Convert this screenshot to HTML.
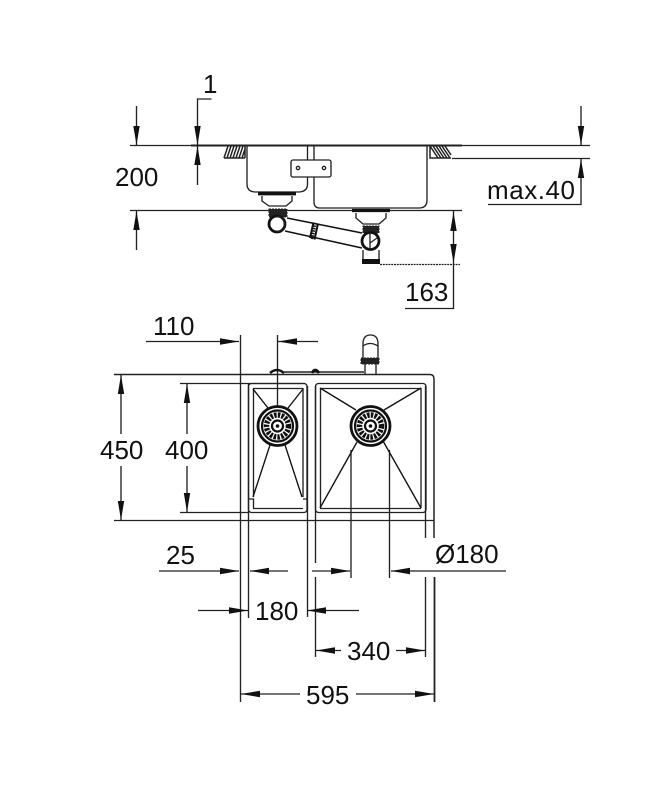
<!DOCTYPE html>
<html><head><meta charset="utf-8"><style>
html,body{margin:0;padding:0;background:#fff;width:668px;height:800px;overflow:hidden}
svg{display:block}
text{font-family:"Liberation Sans",sans-serif;font-size:26px;fill:#111}
</style></head><body>
<svg width="668" height="800" viewBox="0 0 668 800" xmlns="http://www.w3.org/2000/svg">
<defs>
<g id="drain">
<circle r="19.500" fill="#fff" stroke="#111" stroke-width="2.800"/>
<circle r="15.500" fill="none" stroke="#111" stroke-width="2.200"/>
<circle r="11" fill="none" stroke="#111" stroke-width="5.500" stroke-dasharray="2.500 1.200"/>
<circle r="5.500" fill="#fff" stroke="#111" stroke-width="2.200"/>
<circle r="1.800" fill="#111"/>
</g>
</defs>
<g fill="none" stroke="#222" stroke-width="1.350">
<!-- elevation datum lines -->
<path d="M130 145.500H191"/>
<path d="M191 145.500H462" stroke="#222" stroke-width="2"/>
<path d="M462 145.500H590"/>
<path d="M452 158.500H590"/>
<path d="M130 210.500H462"/>
<!-- dims elevation -->
<path d="M136.500 106V145M136.500 211V250"/>
<path d="M211.500 99H197.500V145M197.500 146V185"/>
<path d="M581 106V145M581 159V204.500H488"/>
<path d="M453.500 211V308.500H405"/>
<path d="M380 264.500H460" stroke-dasharray="2 .8"/>
<!-- hatch -->
<g stroke-width="1.500">
<path d="M224 158L228 146M227 158L231 146M230 158L234 146M233 158L237 146M236 158L240 146M239 158L243 146M242 158L245 149M224 158H245M245 146V158"/>
<path d="M430 146V158H451M430 146L438 158M433 146L441 158M436 146L444 158M439 146L447 158M442 146L450 158M445 146L451 155"/>
</g>
<!-- bowls side -->
<path d="M247 146V184Q247 192 256 192H298Q307.500 192 307.500 184V146"/>
<path d="M314 146V202Q314 208 320 208H419Q427 208 427 200V146"/>
<rect x="291" y="160" width="40" height="17" rx="2" fill="#fff"/>
<circle cx="298" cy="168" r="1.700"/><circle cx="324" cy="168" r="1.700"/>
<!-- left waste -->
<path d="M258 193.500H296" stroke="#111" stroke-width="3.800"/>
<path d="M262 196V201L269 206H286L292 201V196"/>
<rect x="269" y="209" width="18" height="8" fill="#222" stroke-dasharray="2 1" stroke-width="1"/>
<!-- pipe -->
<path d="M287 218L362 233M285 231L362 248" stroke="#111" stroke-width="1.500"/>
<circle cx="277" cy="224" r="8" stroke="#111" stroke-width="2.800" fill="#fff"/>
<path d="M277 216.500A7.500 7.500 0 0 1 277 231.500"/>
<path d="M313.500 222.500L310 238M318 223.500L314.500 239.500" stroke="#111" stroke-width="2"/>
<path d="M315.500 223L312 239" stroke="#111" stroke-width="2.500" stroke-dasharray="1.500 1"/>
<!-- right waste -->
<path d="M352 210.500H390" stroke="#111" stroke-width="3.200"/>
<path d="M356 213V218L363 224H379L386 218V213"/>
<rect x="363" y="226" width="16" height="7" fill="#222" stroke-dasharray="2 1" stroke-width="1"/>
<circle cx="370.500" cy="241" r="8.500" stroke="#111" stroke-width="2.800" fill="#fff"/>
<path d="M370 233V249M370 243L377 238"/>
<path d="M363 250V259M379 250V259"/>
<rect x="362" y="259" width="18" height="5" fill="#111" stroke="none"/>
<!-- plan: extension lines -->
<path d="M114 374.500H430Q434 374.500 434 379V538" stroke-width="1.500"/>
<path d="M114 520.500H434"/>
<path d="M180 383.500H305M180 512.500H248"/>
<path d="M240.500 335V702"/>
<path d="M248.500 383V618"/>
<path d="M277.500 335V426"/>
<path d="M307.500 386V617"/>
<path d="M315.500 386V563M315.500 577V657"/>
<path d="M425.500 386V538M425.500 577V657"/>
<path d="M434.500 577V702" stroke-width="1.800"/>
<path d="M351 450V578M389.500 450V578"/>
<!-- left bowl -->
<rect x="248.500" y="383.500" width="58.500" height="129" rx="3"/>
<path d="M253.500 388V497M303 388V497"/>
<path d="M253 388.500H303M253 508.500H303M249 499H253.500V508M303 499H307"/>
<path d="M253 389L268 408M303 389L288 408M253 497L270 445M302 497L285 445" stroke="#111"/>
<!-- right bowl -->
<rect x="315.500" y="383.500" width="110.500" height="129" rx="3"/>
<path d="M320.500 388V508M421 388V508"/>
<path d="M320 388.500H421M320 508.500H421"/>
<path d="M320 388L356 410M421 388L384 410M320 508L357 442M421 508L383 441" stroke="#111"/>
<!-- tap -->
<path d="M284 372H364" stroke-width="1.400"/>
<path d="M270 373Q277 367 284 373" stroke="#111" stroke-width="2.500"/>
<path d="M312 373Q315 367 319 373" stroke="#111" stroke-width="2.800"/>
<path d="M363 358V344Q363 335 370.500 335Q378 335 378 344V358M363 346Q370 341 378 346M365 364V374M376 364V374"/>
<rect x="361" y="358" width="18" height="6" fill="#222" stroke-dasharray="2 1" stroke-width="1"/>
<!-- plan dims -->
<path d="M146 341.500H239M278 341.500H318"/>
<path d="M121 375V434M121 466V520"/>
<path d="M187 384V434M187 466V512"/>
<path d="M159 571H239M250 571H288M312 571H350M391 571H506"/>
<path d="M198 610.500H248M307 610.500H359"/>
<path d="M316 650.500H341M396 650.500H425"/>
<path d="M241 694H300M356 694H434"/>
</g>
<use href="#drain" x="277.500" y="426"/>
<use href="#drain" x="370.500" y="426"/>
<!-- arrowheads -->
<g fill="#111">
<path d="M136.500 145l-3.200 -19h6.400zM136.500 211l-3.200 19h6.400z"/>
<path d="M197.500 145l-3.200 -19h6.400zM197.500 146l-3.200 19h6.400z"/>
<path d="M581 145l-3.200 -19h6.400zM581 159l-3.200 19h6.400z"/>
<path d="M453.500 212l-3.200 19h6.400zM453.500 263l-3.200 -19h6.400z"/>
<path d="M239 341.500l-19 -3.200v6.400zM278 341.500l19 -3.200v6.400z"/>
<path d="M121 375l-3.200 19h6.400zM121 520l-3.200 -19h6.400z"/>
<path d="M187 384l-3.200 19h6.400zM187 512l-3.200 -19h6.400z"/>
<path d="M239 571l-19 -3.200v6.400zM250 571l19 -3.200v6.400zM350 571l-19 -3.200v6.400zM391 571l19 -3.200v6.400z"/>
<path d="M248 610.500l-19 -3.200v6.400zM307 610.500l19 -3.200v6.400z"/>
<path d="M316 650.500l19 -3.200v6.400zM425 650.500l-19 -3.200v6.400z"/>
<path d="M241 694l19 -3.200v6.400zM434 694l-19 -3.200v6.400z"/>
</g>
<text x="203" y="93" textLength="9">1</text>
<text x="115" y="186">200</text>
<text x="487" y="199" textLength="88">max.40</text>
<text x="405" y="301">163</text>
<text x="153" y="335">110</text>
<text x="100" y="459">450</text>
<text x="165" y="459">400</text>
<text x="166" y="564">25</text>
<text x="435" y="563">Ø180</text>
<text x="255" y="620">180</text>
<text x="347" y="660">340</text>
<text x="306" y="704">595</text>
</svg>
</body></html>
